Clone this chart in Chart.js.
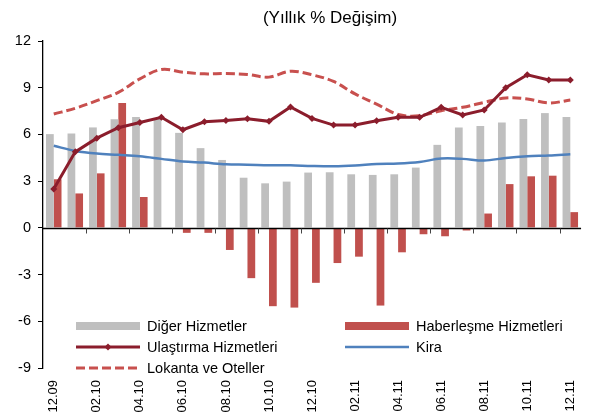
<!DOCTYPE html>
<html><head><meta charset="utf-8">
<style>html,body{margin:0;padding:0;background:#fff}#wrap{position:relative;width:590px;height:415px}</style>
</head><body><div id="wrap"><canvas id="c" width="590" height="415"></canvas></div>
<script src="https://cdn.jsdelivr.net/npm/chart.js@4"></script>
<script>
const categories = ["12.09","01.10","02.10","03.10","04.10","05.10","06.10","07.10","08.10","09.10","10.10","11.10","12.10",
  "01.11","02.11","03.11","04.11","05.11","06.11","07.11","08.11","09.11","10.11","11.11","12.11"];
const digerHizmetler = [6.02,6.06,6.45,6.97,7.12,7.0,6.1,5.12,4.36,3.22,2.86,2.97,3.55,3.57,3.44,3.4,3.44,3.87,5.33,6.45,6.54,6.77,6.99,7.37,7.12];
const haberlesme = [3.12,2.21,3.5,8.02,1.98,0,-0.32,-0.32,-1.42,-3.23,-5.03,-5.12,-3.53,-2.26,-1.85,-4.99,-1.57,-0.41,-0.54,-0.17,0.92,2.81,3.31,3.35,1.01];
const ulastirma = [2.5,4.88,5.76,6.43,6.77,7.1,6.3,6.81,6.9,7.0,6.84,7.76,7.03,6.6,6.6,6.88,7.1,7.1,7.74,7.25,7.57,9.0,9.83,9.5,9.5];
const kira = [5.27,4.94,4.77,4.69,4.6,4.43,4.26,4.19,4.08,4.06,4.02,4.02,3.97,3.95,4.0,4.1,4.13,4.23,4.45,4.43,4.32,4.49,4.6,4.65,4.73];
const lokanta = [7.31,7.68,8.17,8.7,9.57,10.17,10.0,9.89,9.91,9.85,9.68,10.06,9.83,9.4,8.6,7.95,7.28,7.2,7.52,7.74,8.06,8.34,8.28,8.02,8.21];
const yTicks = [-9,-6,-3,0,3,6,9,12];
const titleText = "(Yıllık % Değişim)";

const FONT = "'Liberation Sans', Arial, sans-serif";
const C_GRAY = '#BFBFBF', C_RED = '#C0504D', C_DARK = '#8B1D2C', C_BLUE = '#4F81BD', C_DASH = '#C8504E';

const decor = {
  id: 'decor',
  afterDatasetsDraw(chart) {
    const {ctx, scales: {x, y}, chartArea} = chart;
    const y0 = Math.round(y.getPixelForValue(0)) + 0.5;
    ctx.save();
    ctx.strokeStyle = '#000';
    ctx.lineWidth = 1.3;
    ctx.beginPath();
    ctx.moveTo(chartArea.left, y0); ctx.lineTo(chartArea.right, y0);
    ctx.stroke();
    ctx.lineWidth = 1;
    ctx.strokeStyle = '#444';
    ctx.beginPath();
    for (let i = 2; i < categories.length; i += 2) {
      const px = Math.round((x.getPixelForValue(i - 1) + x.getPixelForValue(i)) / 2) + 0.5;
      ctx.moveTo(px, y0); ctx.lineTo(px, y0 + 5);
    }
    ctx.stroke();
    ctx.restore();
  },
  afterDraw(chart) {
    const ctx = chart.ctx;
    const ds = chart.data.datasets;
    ctx.save();
    ctx.fillStyle = '#000';
    ctx.font = '17px ' + FONT;
    ctx.textAlign = 'center';
    ctx.textBaseline = 'middle';
    ctx.fillText(titleText, 330, 18);
    const items = [
      {i: 0, x: 76, y: 326, kind: 'bar'},
      {i: 1, x: 345, y: 326, kind: 'bar'},
      {i: 2, x: 76, y: 347, kind: 'line', marker: true},
      {i: 3, x: 345, y: 347, kind: 'line'},
      {i: 4, x: 76, y: 368, kind: 'line'}
    ];
    const sw = 64;
    items.forEach(it => {
      const d = ds[it.i];
      if (it.kind === 'bar') {
        ctx.fillStyle = d.backgroundColor;
        ctx.fillRect(it.x, it.y - 4, sw, 8);
      } else {
        ctx.strokeStyle = d.borderColor;
        ctx.lineWidth = d.borderWidth;
        ctx.setLineDash(d.borderDash || []);
        ctx.beginPath();
        ctx.moveTo(it.x, it.y); ctx.lineTo(it.x + sw, it.y);
        ctx.stroke();
        ctx.setLineDash([]);
        if (it.marker) {
          const cx = it.x + sw / 2, r = 3.5;
          ctx.fillStyle = d.borderColor;
          ctx.beginPath();
          ctx.moveTo(cx, it.y - r); ctx.lineTo(cx + r, it.y); ctx.lineTo(cx, it.y + r); ctx.lineTo(cx - r, it.y);
          ctx.closePath(); ctx.fill();
        }
      }
      ctx.fillStyle = '#000';
      ctx.font = '14.5px ' + FONT;
      ctx.textAlign = 'left';
      ctx.textBaseline = 'middle';
      ctx.fillText(d.label, it.x + 71, it.y + 0.5);
    });
    ctx.restore();
  }
};

new Chart(document.getElementById('c'), {
  type: 'bar',
  data: {
    labels: categories,
    datasets: [
      {label: 'Diğer Hizmetler', data: digerHizmetler, backgroundColor: C_GRAY, categoryPercentage: 0.72, barPercentage: 1.0, order: 10},
      {label: 'Haberleşme Hizmetleri', data: haberlesme, backgroundColor: C_RED, categoryPercentage: 0.72, barPercentage: 1.0, order: 10},
      {type: 'line', label: 'Ulaştırma Hizmetleri', data: ulastirma, borderColor: C_DARK, backgroundColor: C_DARK, borderWidth: 3,
        pointStyle: 'rectRot', pointRadius: 3.5, pointBorderWidth: 0, pointBackgroundColor: C_DARK, tension: 0, order: 1},
      {type: 'line', label: 'Kira', data: kira, borderColor: C_BLUE, backgroundColor: C_BLUE, borderWidth: 2.5, pointRadius: 0, tension: 0.35, order: 3},
      {type: 'line', label: 'Lokanta ve Oteller', data: lokanta, borderColor: C_DASH, backgroundColor: C_DASH, borderWidth: 3, borderDash: [9, 4],
        pointRadius: 0, tension: 0.35, order: 2}
    ]
  },
  options: {
    responsive: false,
    animation: false,
    events: [],
    layout: {padding: {top: 41, right: 5, left: 0, bottom: 0}},
    plugins: {legend: {display: false}, title: {display: false}, tooltip: {enabled: false}},
    scales: {
      x: {
        grid: {display: false},
        border: {display: false},
        ticks: {
          autoSkip: false, maxRotation: 90, minRotation: 90, padding: 4,
          color: '#000', font: {family: FONT, size: 13},
          callback: function(v, i) { return i % 2 === 0 ? categories[i] : ''; }
        },
        afterFit: s => { s.height = 47; }
      },
      y: {
        min: -9, max: 12,
        afterBuildTicks: s => { s.ticks = yTicks.map(v => ({value: v})); },
        grid: {drawOnChartArea: false, tickLength: 5, color: '#000', tickColor: '#000'},
        border: {display: true, color: '#000', width: 1.3},
        ticks: {color: '#000', padding: 7, font: {family: FONT, size: 14.5}},
        afterFit: s => { s.width = 43; }
      }
    }
  },
  plugins: [decor]
});
</script>
</body></html>
